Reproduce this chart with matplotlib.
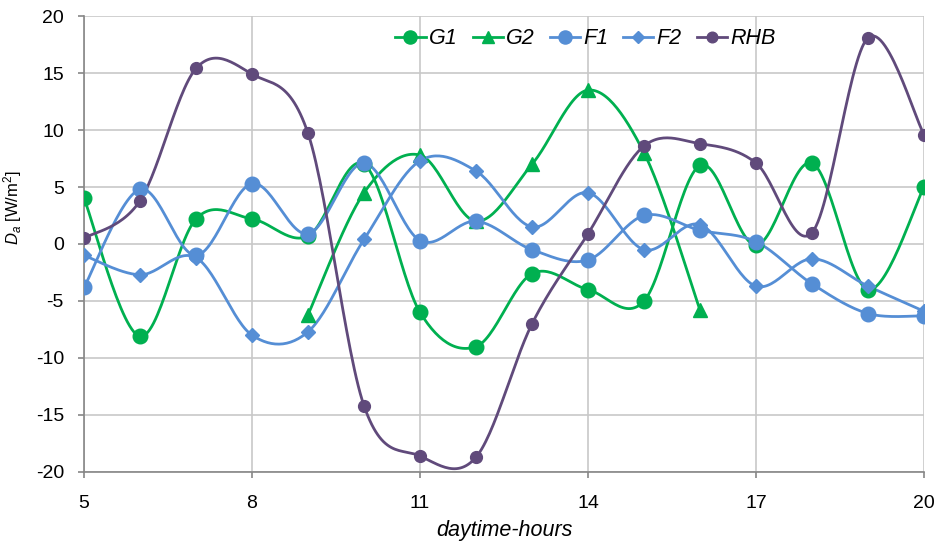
import matplotlib.pyplot as plt
import numpy as np

plt.rcParams['font.family'] = ['Liberation Sans', 'DejaVu Sans']
plt.rcParams['mathtext.fontset'] = 'custom'
plt.rcParams['mathtext.it'] = 'Liberation Sans:italic'
plt.rcParams['mathtext.rm'] = 'Liberation Sans'
plt.rcParams['axes.unicode_minus'] = False

hours = list(range(5, 21))
g1 = [4.0, -8.1, 2.2, 2.2, 0.7, 7.0, -6.0, -9.0, -2.6, -4.0, -5.0, 6.9, -0.1, 7.1, -4.0, 5.0]
g2_hours = list(range(9, 17))
g2 = [-6.2, 4.5, 7.8, 2.0, 7.0, 13.5, 8.0, -5.8]
f1 = [-3.8, 4.8, -1.0, 5.3, 0.9, 7.1, 0.3, 2.0, -0.5, -1.4, 2.5, 1.2, 0.2, -3.5, -6.1, -6.3]
f2 = [-1.0, -2.7, -1.2, -8.0, -7.7, 0.4, 7.3, 6.4, 1.5, 4.5, -0.5, 1.7, -3.7, -1.3, -3.7, -5.9]
rhb = [0.5, 3.8, 15.4, 14.9, 9.7, -14.2, -18.6, -18.7, -7.0, 0.9, 8.6, 8.8, 7.1, 1.0, 18.1, 9.6]

GREEN = '#00B050'
BLUE = '#558ED5'
PURPLE = '#604A7B'


def smooth(x, y, n=30):
    # excel-like smoothed line: catmull-rom segments as cubic bezier
    x = np.asarray(x, float)
    y = np.asarray(y, float)
    px = np.concatenate([[x[0]], x, [x[-1]]])
    py = np.concatenate([[y[0]], y, [y[-1]]])
    xs, ys = [], []
    t = np.linspace(0, 1, n)
    for i in range(1, len(px) - 2):
        p0 = np.array([px[i - 1], py[i - 1]])
        p1 = np.array([px[i], py[i]])
        p2 = np.array([px[i + 1], py[i + 1]])
        p3 = np.array([px[i + 2], py[i + 2]])
        c1 = p1 + (p2 - p0) / 6
        c2 = p2 - (p3 - p1) / 6
        b = ((1 - t) ** 3)[:, None] * p1 + (3 * (1 - t) ** 2 * t)[:, None] * c1 \
            + (3 * (1 - t) * t ** 2)[:, None] * c2 + (t ** 3)[:, None] * p2
        xs.extend(b[:, 0])
        ys.extend(b[:, 1])
    return xs, ys


fig = plt.figure(figsize=(9.41, 5.45), dpi=100)
ax = fig.add_axes([0.0893, 0.134, 0.8927, 0.8366])

series = [
    ('G1', hours, g1, GREEN, 'o', 10.5),
    ('G2', g2_hours, g2, GREEN, '^', 10),
    ('F1', hours, f1, BLUE, 'o', 10.5),
    ('F2', hours, f2, BLUE, 'D', 7),
    ('RHB', hours, rhb, PURPLE, 'o', 8.5),
]

handles = []
for name, x, y, col, mk, ms in series:
    sx, sy = smooth(x, y)
    ax.plot(sx, sy, color=col, lw=2.0, zorder=3)
    ax.plot(x, y, linestyle='none', marker=mk, ms=ms, color=col, mec=col, zorder=4)
    h, = ax.plot([], [], color=col, lw=2.0, marker=mk, ms=ms * 0.9, label=name)
    handles.append(h)

ax.set_xlim(5, 20)
ax.set_ylim(-20, 20)
ax.set_xticks(range(5, 21, 3))
ax.set_yticks(range(-20, 21, 5))
ax.grid(True, color='#C8C8C8', lw=1.2)
ax.set_axisbelow(True)
for s in ['top', 'right']:
    ax.spines[s].set_visible(False)
ax.spines['left'].set_color('#868686')
ax.spines['bottom'].set_color('#868686')
ax.spines['left'].set_linewidth(1.2)
ax.spines['bottom'].set_linewidth(1.2)
ax.tick_params(colors='#868686', labelcolor='black', labelsize=14, length=4.5, width=1.2)
ax.tick_params(axis='x', pad=12)
ax.tick_params(axis='y', pad=10)

ax.set_xlabel('daytime-hours', fontsize=15.5, style='italic', labelpad=6)
ax.set_ylabel('$D_a$ [W/m$^2$]', fontsize=12)
ax.yaxis.set_label_coords(-0.071, 0.58)

ax.legend(handles=handles, ncol=5, frameon=False, loc='center',
          bbox_to_anchor=(0.597, 0.95), prop={'style': 'italic', 'size': 15.5},
          handlelength=1.4, handletextpad=0.15, columnspacing=0.7)

fig.savefig('out.png', dpi=100)
